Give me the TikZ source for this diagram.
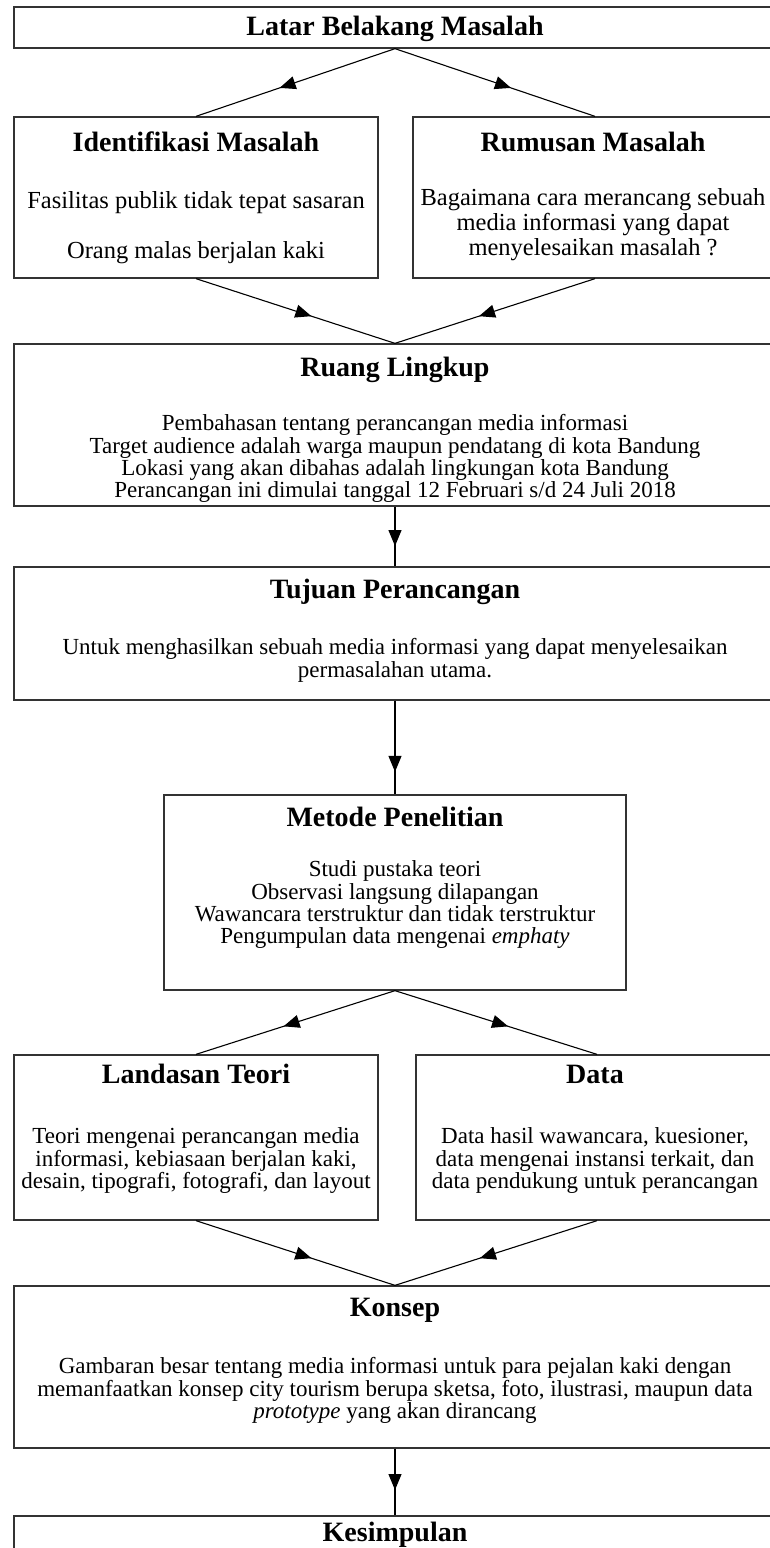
\documentclass[tikz,border=0pt]{standalone}
\usepackage{fontspec}
\setmainfont{Liberation Serif}
\usetikzlibrary{decorations.markings,arrows.meta}
\begin{document}
\begin{tikzpicture}[x=1pt,y=-1pt,
  box/.style={draw=black!80, line width=1.3pt, inner sep=0pt, fill=white},
  ttl/.style={anchor=base, inner sep=0pt, font=\fontsize{28}{30}\selectfont\bfseries},
  txt/.style={anchor=base, inner sep=0pt, font=\fontsize{23}{24}\selectfont},
  txtb/.style={anchor=base, inner sep=0pt, font=\fontsize{24.5}{26}\selectfont},
  conn/.style={line width=1.1pt, postaction={decorate},
    decoration={markings, mark=at position #1 with {\arrow{Triangle[length=16pt,width=13pt]}}}}
]
\useasboundingbox (0,0) rectangle (770,1548);
\fill[white] (0,0) rectangle (770,1548);

% boxes
\node[box, minimum width=762pt, minimum height=41pt]  (latar)  at (395,27.5) {};
\node[box, minimum width=364pt, minimum height=161pt] (ident)  at (196,197.5) {};
\node[box, minimum width=364pt, minimum height=161pt] (rumus)  at (595,197.5) {};
\node[box, minimum width=762pt, minimum height=162pt] (ruang)  at (395,425) {};
\node[box, minimum width=762pt, minimum height=133pt] (tujuan) at (395,633.5) {};
\node[box, minimum width=462pt, minimum height=195pt] (metode) at (395,892.5) {};
\node[box, minimum width=364pt, minimum height=165pt] (landas) at (196,1137.5) {};
\node[box, minimum width=362pt, minimum height=165pt] (data)   at (597,1137.5) {};
\node[box, minimum width=762pt, minimum height=162pt] (konsep) at (395,1367) {};
\node[box, minimum width=762pt, minimum height=80pt]  (simpul) at (395,1556) {};

% texts
\node[ttl] (t-latar) at (395,35) {Latar Belakang Masalah};

\node[ttl] (t-ident) at (196,151) {Identifikasi Masalah};
\node[txtb] (i1) at (196,208) {Fasilitas publik tidak tepat sasaran};
\node[txtb] (i2) at (196,258) {Orang malas berjalan kaki};

\node[ttl] (t-rumus) at (593,151) {Rumusan Masalah};
\node[txtb] (r1) at (593,205) {Bagaimana cara merancang sebuah};
\node[txtb] (r2) at (593,230) {media informasi yang dapat};
\node[txtb] (r3) at (593,255) {menyelesaikan masalah ?};

\node[ttl] (t-ruang) at (395,376) {Ruang Lingkup};
\node[txt] (g1) at (395,430) {Pembahasan tentang perancangan media informasi};
\node[txt] (g2) at (395,453) {Target audience adalah warga maupun pendatang di kota Bandung};
\node[txt] (g3) at (395,475) {Lokasi yang akan dibahas adalah lingkungan kota Bandung};
\node[txt] (g4) at (395,497) {Perancangan ini dimulai tanggal 12 Februari s/d 24 Juli 2018};

\node[ttl] (t-tujuan) at (395,598) {Tujuan Perancangan};
\node[txt] (j1) at (395,654) {Untuk menghasilkan sebuah media informasi yang dapat menyelesaikan};
\node[txt] (j2) at (395,677) {permasalahan utama.};

\node[ttl] (t-metode) at (395,826) {Metode Penelitian};
\node[txt] (m1) at (395,876) {Studi pustaka teori};
\node[txt] (m2) at (395,899) {Observasi langsung dilapangan};
\node[txt] (m3) at (395,921) {Wawancara terstruktur dan tidak terstruktur};
\node[txt] (m4) at (395,943) {Pengumpulan data mengenai \textit{emphaty}};

\node[ttl] (t-landas) at (196,1083) {Landasan Teori};
\node[txt] (l1) at (196,1143) {Teori mengenai perancangan media};
\node[txt] (l2) at (196,1166) {informasi, kebiasaan berjalan kaki,};
\node[txt] (l3) at (196,1188) {desain, tipografi, fotografi, dan layout};

\node[ttl] (t-data) at (595,1083) {Data};
\node[txt] (d1) at (595,1143) {Data hasil wawancara, kuesioner,};
\node[txt] (d2) at (595,1166) {data mengenai instansi terkait, dan};
\node[txt] (d3) at (595,1188) {data pendukung untuk perancangan};

\node[ttl] (t-konsep) at (395,1316) {Konsep};
\node[txt] (k1) at (395,1373) {Gambaran besar tentang media informasi untuk para pejalan kaki dengan};
\node[txt] (k2) at (395,1396) {memanfaatkan konsep city tourism berupa sketsa, foto, ilustrasi, maupun data};
\node[txt] (k3) at (395,1418) {\textit{prototype} yang akan dirancang};

\node[ttl] (t-simpul) at (395,1541) {Kesimpulan};

% connectors
\draw[conn=0.58] (latar.south) -- (ident.north);
\draw[conn=0.58] (latar.south) -- (rumus.north);
\draw[conn=0.58] (ident.south) -- (ruang.north);
\draw[conn=0.58] (rumus.south) -- (ruang.north);
\draw[conn=0.66] (ruang.south) -- (tujuan.north);
\draw[conn=0.76] (tujuan.south) -- (metode.north);
\draw[conn=0.56] (metode.south) -- (landas.north);
\draw[conn=0.56] (metode.south) -- (data.north);
\draw[conn=0.58] (landas.south) -- (konsep.north);
\draw[conn=0.58] (data.south) -- (konsep.north);
\draw[conn=0.62] (konsep.south) -- (simpul.north);
\end{tikzpicture}
\end{document}
